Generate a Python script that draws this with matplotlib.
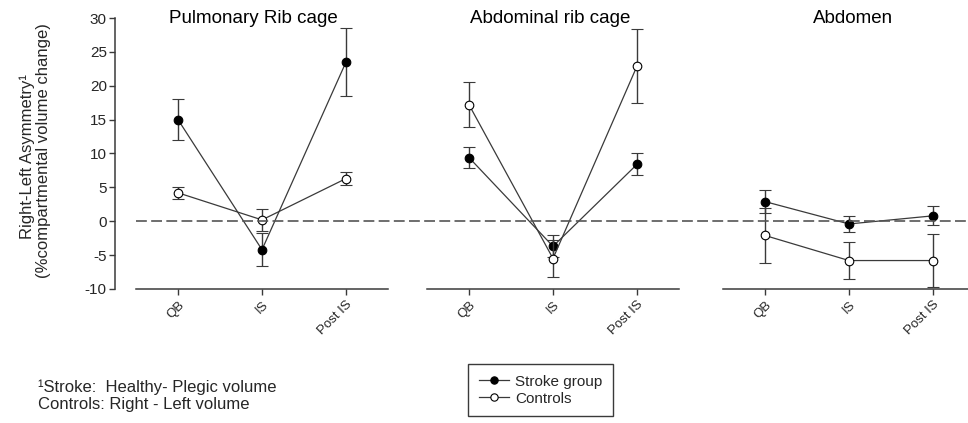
import matplotlib
matplotlib.use('Agg')
from matplotlib import pyplot, transforms
from matplotlib.lines import Line2D

# Values
categories = ['QB', 'IS', 'Post IS']
panel_titles = ['Pulmonary Rib cage', 'Abdominal rib cage', 'Abdomen']

stroke_mean = [
    [15.0, -4.2, 23.5],
    [9.4, -3.7, 8.4],
    [2.9, -0.4, 0.8],
]
stroke_err = [
    [3.0, 2.4, 5.0],
    [1.5, 1.6, 1.6],
    [1.7, 1.2, 1.4],
]
control_mean = [
    [4.2, 0.2, 6.3],
    [17.2, -5.5, 22.9],
    [-2.1, -5.8, -5.8],
]
control_err = [
    [0.9, 1.6, 0.9],
    [3.3, 2.8, 5.5],
    [4.0, 2.7, 3.9],
]
y_ticks = [-10, -5, 0, 5, 10, 15, 20, 25, 30]

_W, _H = 968, 423
_TEXT = '#262626'
_LINE = '#3a3a3a'
_DASH = '#555555'

pyplot.rcParams['font.family'] = ['Liberation Sans', 'DejaVu Sans']
pyplot.rcParams['axes.unicode_minus'] = False
pyplot.rcParams['axes.edgecolor'] = _LINE
pyplot.rcParams['xtick.color'] = _LINE
pyplot.rcParams['ytick.color'] = _LINE
pyplot.rcParams['xtick.labelcolor'] = _TEXT
pyplot.rcParams['ytick.labelcolor'] = _TEXT

fig = pyplot.figure(figsize=(_W / 100, _H / 100), dpi=100)

# axes boxes in pixels: left, right (top 18, bottom 289)
panel_px = [(136, 388), (427, 679), (723, 975)]
title_x = [0.465, 0.49, 0.515]
top_px, bottom_px = 18, 289

marker_style = dict(color=_LINE, lw=0.9, marker='o', ms=6.2, mec='black', mew=0.8)

axes = []
for i, (x0, x1) in enumerate(panel_px):
    ax = fig.add_axes([x0 / _W, 1 - bottom_px / _H, (x1 - x0) / _W, (bottom_px - top_px) / _H])
    ax.set_facecolor('none')
    xs = range(len(categories))
    ax.errorbar(xs, stroke_mean[i], yerr=stroke_err[i], mfc='black', **marker_style,
                ecolor=_LINE, elinewidth=1.0, capsize=4.5, capthick=1.0, zorder=3)
    ax.errorbar(xs, control_mean[i], yerr=control_err[i], mfc='white', **marker_style,
                ecolor=_LINE, elinewidth=1.0, capsize=4.5, capthick=1.0, zorder=4)
    ax.set_xlim(-0.5, 2.5)
    ax.set_ylim(-10, 30)
    ax.set_xticks(list(xs))
    ax.set_xticklabels(categories, rotation=45, ha='right', rotation_mode='anchor', fontsize=9.5)
    ax.tick_params(axis='x', direction='out', length=4, width=1, pad=3)
    for side in ('top', 'right'):
        ax.spines[side].set_visible(False)
    ax.spines['bottom'].set_linewidth(1.1)
    if i == 0:
        ax.spines['left'].set_position(('outward', 15))
        ax.spines['left'].set_linewidth(1.1)
        ax.set_yticks(y_ticks)
        ax.tick_params(axis='y', direction='out', length=4, width=1, labelsize=11, pad=2)
    else:
        ax.spines['left'].set_visible(False)
        ax.set_yticks([])
    ax.text(title_x[i], 1.0, panel_titles[i], transform=ax.transAxes,
            ha='center', va='center', fontsize=13.5, color='black')
    axes.append(ax)

# zero reference line running across all three panels
zero_tf = transforms.blended_transform_factory(fig.transFigure, axes[0].transData)
fig.add_artist(Line2D([panel_px[0][0] / _W, 1.0], [0, 0], transform=zero_tf,
                      color=_DASH, lw=1.2, dashes=(6.5, 2.6), zorder=1))

# y-axis label, two lines
fig.text(27 / _W, 1 - 157 / _H, 'Right-Left Asymmetry\u00b9', rotation=90,
         ha='center', va='center', fontsize=12, color=_TEXT)
fig.text(44 / _W, 1 - 151 / _H, '(%compartmental volume change)', rotation=90,
         ha='center', va='center', fontsize=12, color=_TEXT)

# footnote
fig.text(38 / _W, 1 - 379 / _H, '\u00b9Stroke:  Healthy- Plegic volume\nControls: Right - Left volume',
         ha='left', va='top', fontsize=12, color=_TEXT, linespacing=1.2)

legend_handles = [
    Line2D([], [], mfc='black', **marker_style),
    Line2D([], [], mfc='white', **marker_style),
]
legend = fig.legend(legend_handles, ['Stroke group', 'Controls'], loc='upper left',
                    bbox_to_anchor=(468 / _W, 1 - 364 / _H), fontsize=11,
                    frameon=True, fancybox=False, edgecolor=_LINE, framealpha=1,
                    handlelength=2.0, handletextpad=0.4, borderpad=0.7,
                    labelspacing=0.2, markerscale=0.85, borderaxespad=0)
legend.get_frame().set_linewidth(1.0)
for text in legend.get_texts():
    text.set_color(_TEXT)

pyplot.savefig('out.png', dpi=100)
